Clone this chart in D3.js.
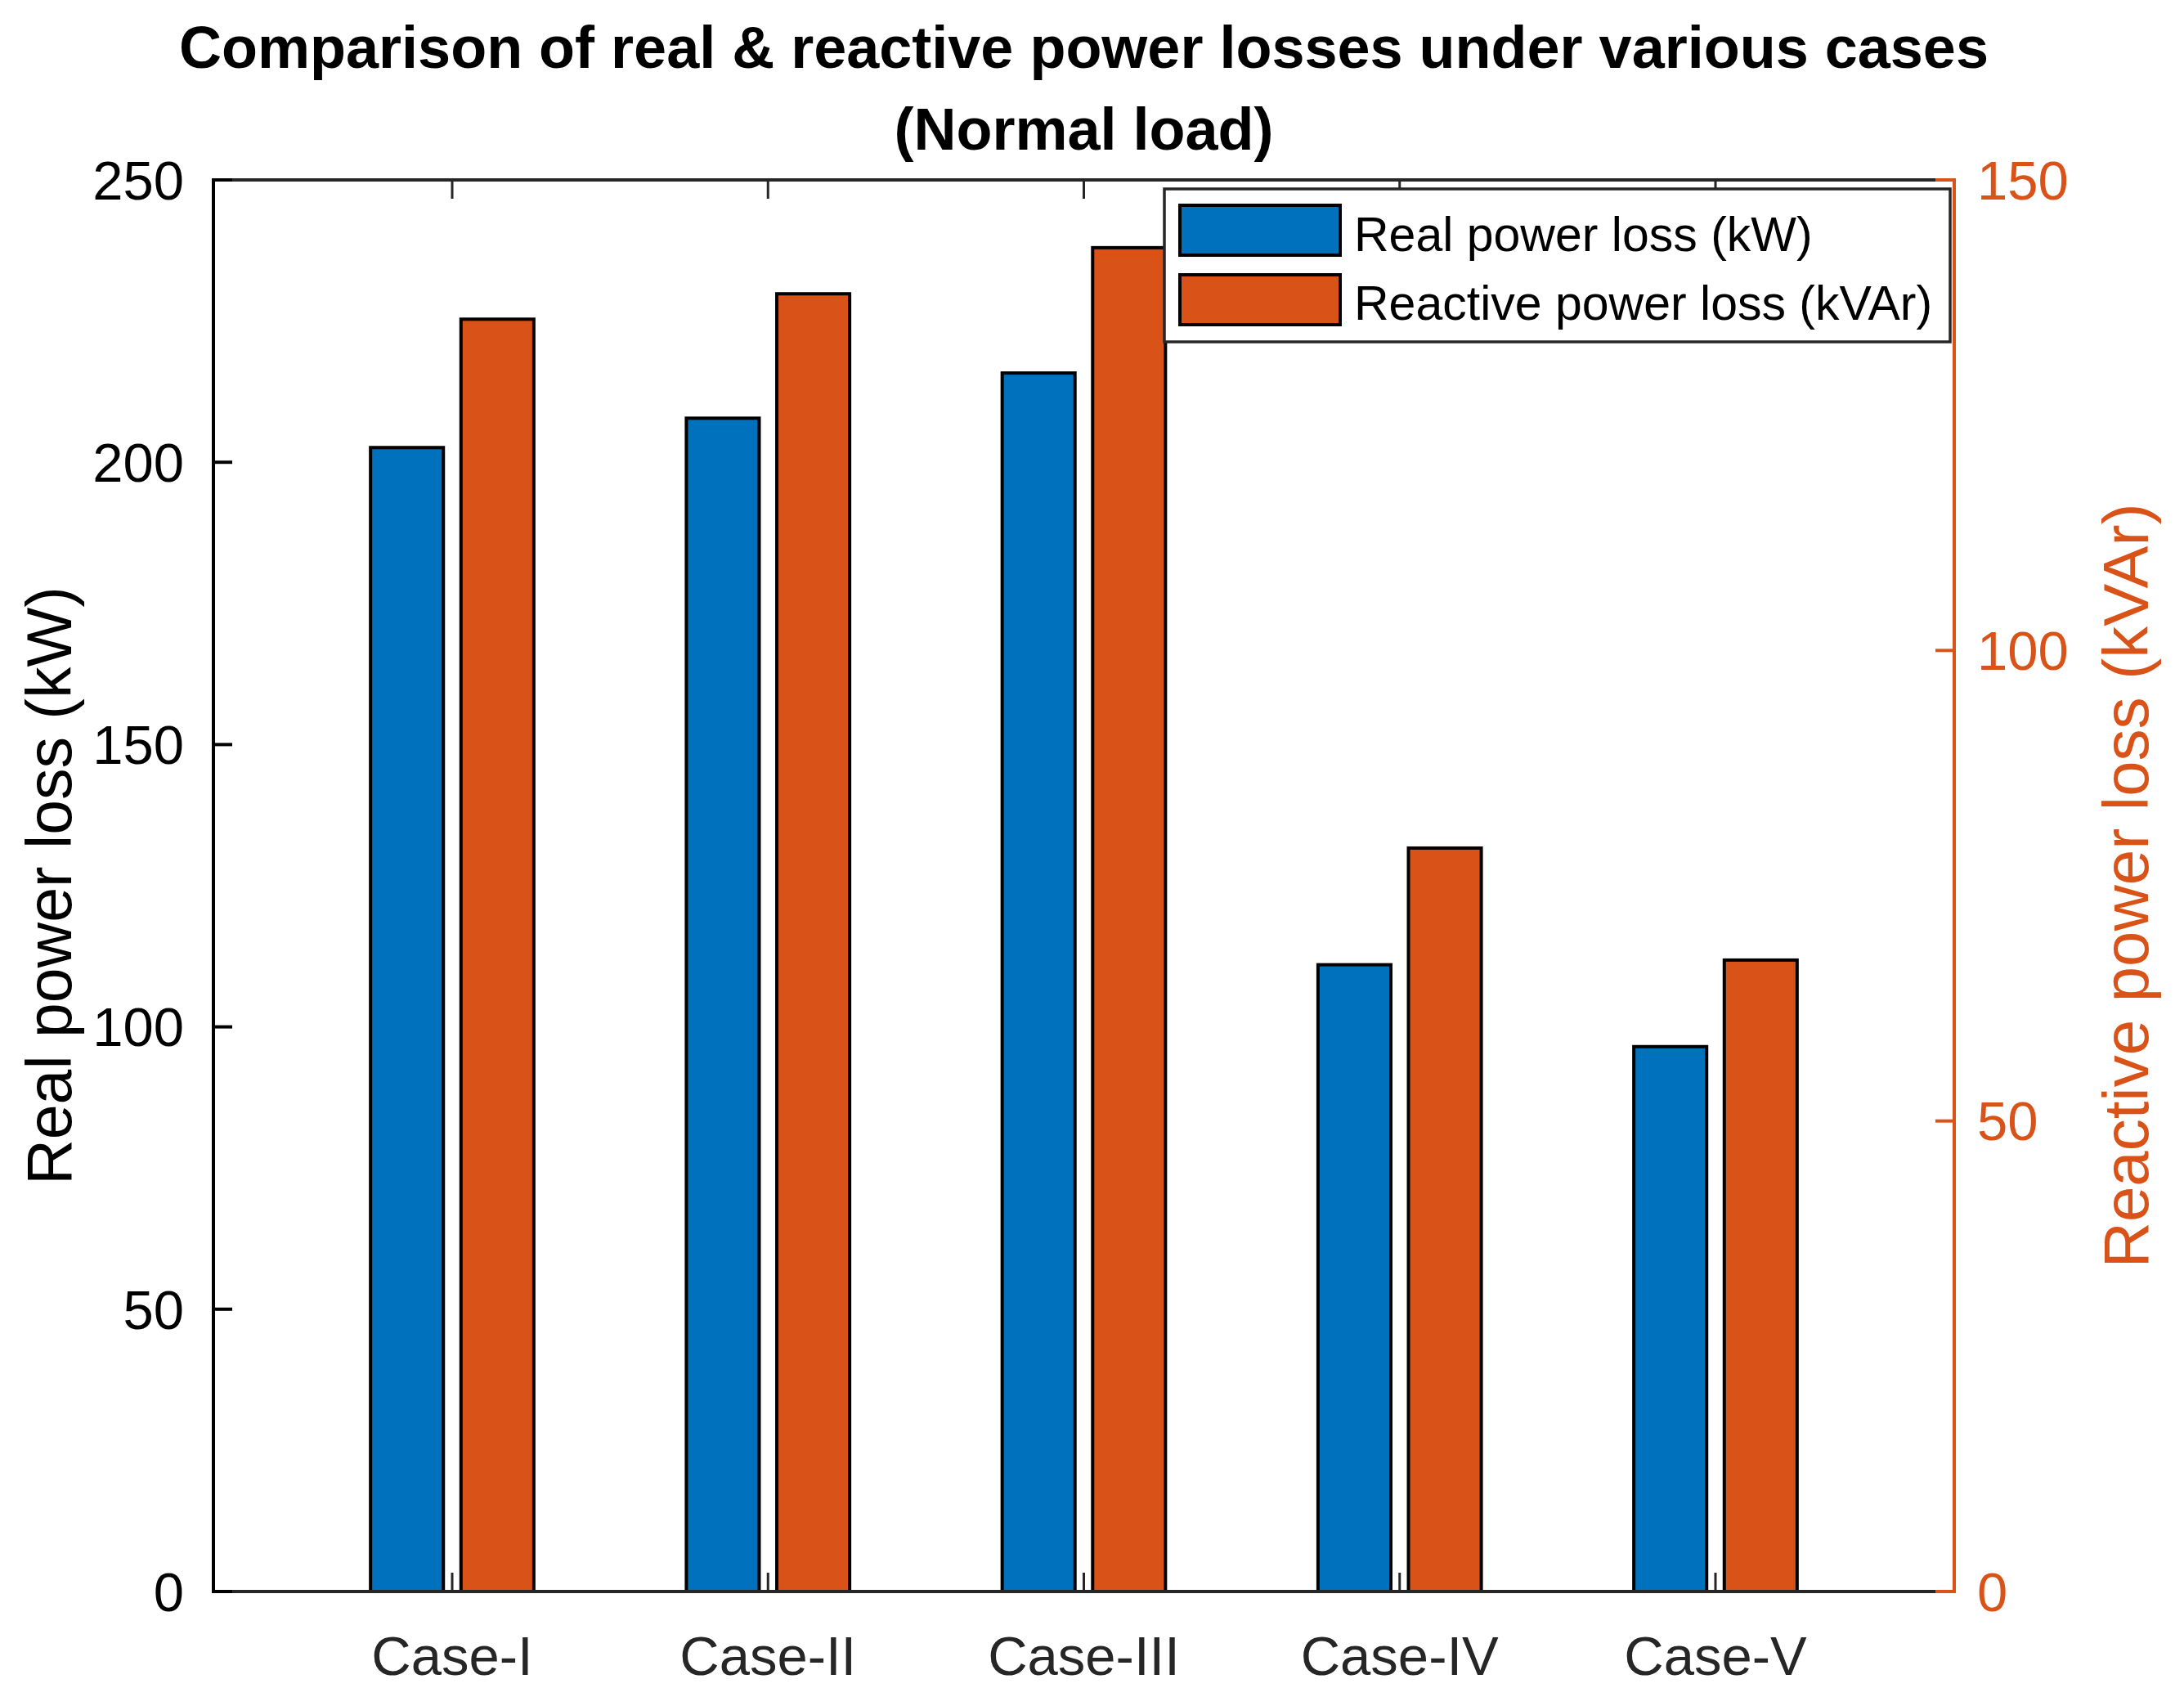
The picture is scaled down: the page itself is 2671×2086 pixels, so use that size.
<!DOCTYPE html>
<html>
<head>
<meta charset="utf-8">
<script src="https://cdn.jsdelivr.net/npm/d3@7"></script>
<style>
  html, body { margin: 0; padding: 0; background: #fff; }
  svg { display: block; }
  text { font-family: "Liberation Sans", Arial, Helvetica, sans-serif; }
</style>
</head>
<body>
<svg id="chart" width="2671" height="2086"></svg>
<script>
// ---- data ----
const categories = ["Case-I", "Case-II", "Case-III", "Case-IV", "Case-V"];
const realLoss = [202.6, 207.8, 215.8, 111.0, 96.5];      // kW (left axis)
const reactiveLoss = [135.2, 137.9, 142.8, 79.0, 67.1];   // kVAr (right axis)
const leftTicks = [0, 50, 100, 150, 200, 250];
const rightTicks = [0, 50, 100, 150];
const titleLines = ["Comparison of real & reactive power losses under various cases", "(Normal load)"];
const seriesNames = ["Real power loss (kW)", "Reactive power loss (kVAr)"];

// ---- layout ----
const W = 2671, H = 2086;
const L = 261, R = 2390, T = 220, B = 1946;
const blue = "#0072BD", orange = "#D95319", axisGray = "#262626";
const tickLen = 23;

const svg = d3.select("#chart");
svg.append("rect").attr("width", W).attr("height", H).attr("fill", "#fff");

const x = d3.scaleLinear().domain([0.244, 5.756]).range([L, R]);
const yL = d3.scaleLinear().domain([0, 250]).range([B, T]);
const yR = d3.scaleLinear().domain([0, 150]).range([B, T]);

const barW = 0.2306, off = 0.1432;
const idx = categories.map((c, i) => i + 1);

// bars
const g = svg.append("g");
g.selectAll("rect.real").data(realLoss).join("rect")
  .attr("class", "real")
  .attr("x", (d, i) => x(idx[i] - off - barW / 2))
  .attr("width", (d, i) => x(idx[i] - off + barW / 2) - x(idx[i] - off - barW / 2))
  .attr("y", d => yL(d))
  .attr("height", d => yL(0) - yL(d))
  .attr("fill", blue).attr("stroke", "#000").attr("stroke-width", 4);

g.selectAll("rect.reactive").data(reactiveLoss).join("rect")
  .attr("class", "reactive")
  .attr("x", (d, i) => x(idx[i] + off - barW / 2))
  .attr("width", (d, i) => x(idx[i] + off + barW / 2) - x(idx[i] + off - barW / 2))
  .attr("y", d => yR(d))
  .attr("height", d => yR(0) - yR(d))
  .attr("fill", orange).attr("stroke", "#000").attr("stroke-width", 4);

// x axis (bottom and top lines) with inward ticks
const xa = svg.append("g");
xa.append("line").attr("x1", L).attr("x2", R).attr("y1", B).attr("y2", B)
  .attr("stroke", axisGray).attr("stroke-width", 4);
xa.append("line").attr("x1", L).attr("x2", R).attr("y1", T).attr("y2", T)
  .attr("stroke", axisGray).attr("stroke-width", 4);
idx.forEach(v => {
  xa.append("line").attr("x1", x(v)).attr("x2", x(v)).attr("y1", B).attr("y2", B - tickLen)
    .attr("stroke", axisGray).attr("stroke-width", 3);
  xa.append("line").attr("x1", x(v)).attr("x2", x(v)).attr("y1", T).attr("y2", T + tickLen)
    .attr("stroke", axisGray).attr("stroke-width", 3);
});
xa.selectAll("text").data(categories).join("text")
  .attr("x", (d, i) => x(idx[i])).attr("y", 2048)
  .attr("text-anchor", "middle").attr("font-size", 67).attr("fill", axisGray)
  .text(d => d);

// left axis
const la = svg.append("g");
la.append("line").attr("x1", L).attr("x2", L).attr("y1", T - 2).attr("y2", B + 2)
  .attr("stroke", "#000").attr("stroke-width", 4);
leftTicks.forEach(v => {
  la.append("line").attr("x1", L).attr("x2", L + tickLen).attr("y1", yL(v)).attr("y2", yL(v))
    .attr("stroke", "#000").attr("stroke-width", 4);
});
la.selectAll("text").data(leftTicks).join("text")
  .attr("x", 225).attr("y", d => yL(d)).attr("dy", "0.355em")
  .attr("text-anchor", "end").attr("font-size", 67).attr("fill", "#000")
  .text(d => d);
la.append("text")
  .attr("transform", `translate(87, ${(T + B) / 2}) rotate(-90)`)
  .attr("text-anchor", "middle").attr("font-size", 77).attr("fill", "#000")
  .text("Real power loss (kW)");

// right axis
const ra = svg.append("g");
ra.append("line").attr("x1", R).attr("x2", R).attr("y1", T - 2).attr("y2", B + 2)
  .attr("stroke", orange).attr("stroke-width", 4);
rightTicks.forEach(v => {
  ra.append("line").attr("x1", R).attr("x2", R - tickLen).attr("y1", yR(v)).attr("y2", yR(v))
    .attr("stroke", orange).attr("stroke-width", 4);
});
ra.selectAll("text").data(rightTicks).join("text")
  .attr("x", 2418).attr("y", d => yR(d)).attr("dy", "0.355em")
  .attr("text-anchor", "start").attr("font-size", 67).attr("fill", orange)
  .text(d => d);
ra.append("text")
  .attr("transform", `translate(2627, ${(T + B) / 2}) rotate(-90)`)
  .attr("text-anchor", "middle").attr("font-size", 78).attr("fill", orange)
  .text("Reactive power loss (kVAr)");

// title
svg.append("g").selectAll("text").data(titleLines).join("text")
  .attr("x", (L + R) / 2).attr("y", (d, i) => 83 + i * 100)
  .attr("text-anchor", "middle").attr("font-size", 72).attr("font-weight", "bold").attr("fill", "#000")
  .text(d => d);

// legend
const lg = svg.append("g");
lg.append("rect").attr("x", 1424).attr("y", 231).attr("width", 961).attr("height", 187)
  .attr("fill", "#fff").attr("stroke", axisGray).attr("stroke-width", 3.5);
const legColors = [blue, orange];
seriesNames.forEach((name, i) => {
  lg.append("rect").attr("x", 1443).attr("y", 251 + i * 85).attr("width", 196).attr("height", 61)
    .attr("fill", legColors[i]).attr("stroke", "#000").attr("stroke-width", 4);
  lg.append("text").attr("x", 1656).attr("y", 307 + i * 84)
    .attr("font-size", 59).attr("fill", "#000").text(name);
});
</script>
</body>
</html>
